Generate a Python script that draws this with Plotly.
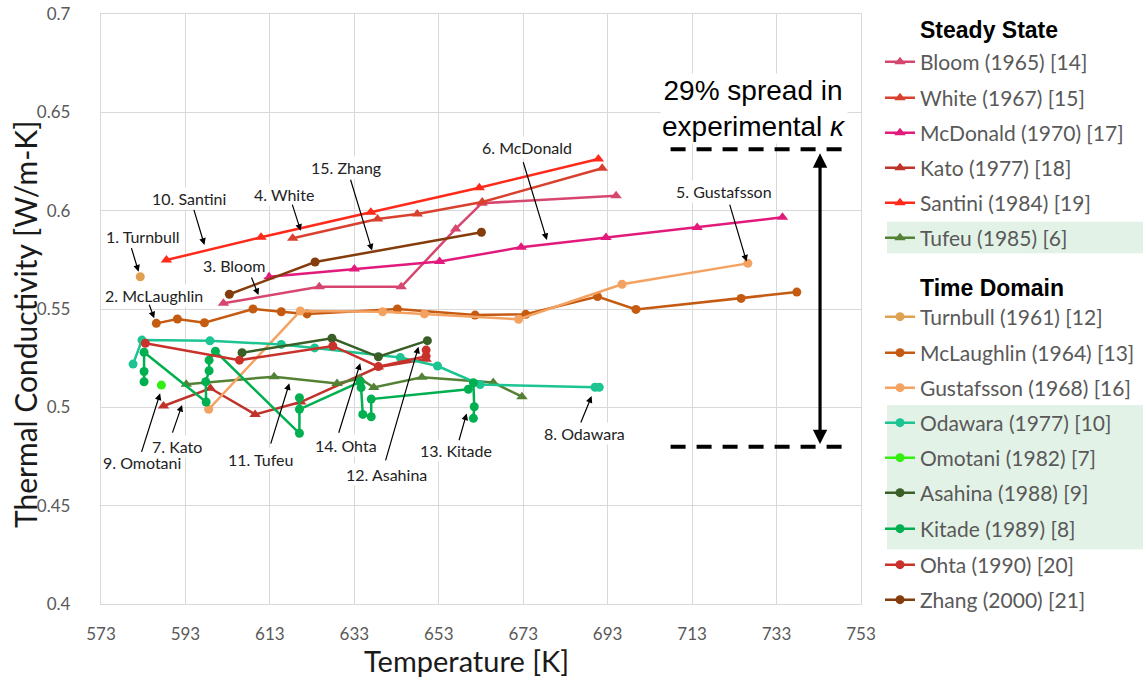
import plotly.graph_objects as go

# ---- Steady-state measurements: temperature [K], conductivity [W/m-K] ----
bloom_T = [602.0, 624.7, 644.1, 657.0, 663.2, 695.0]
bloom_k = [0.5529, 0.5613, 0.5613, 0.5907, 0.6038, 0.6076]

white_T = [618.4, 638.5, 647.9, 663.3, 691.7]
white_k = [0.5860, 0.5958, 0.5983, 0.6044, 0.6216]

mcdonald_T = [612.8, 633.0, 653.2, 672.5, 692.6, 714.2, 734.4]
mcdonald_k = [0.5664, 0.5703, 0.5741, 0.5814, 0.5863, 0.5914, 0.5966]

kato_T = [587.8, 598.9, 609.5, 620.3, 638.7, 650.0]
kato_k = [0.5007, 0.5097, 0.4964, 0.5027, 0.5205, 0.5245]

santini_T = [588.5, 610.9, 636.9, 662.6, 690.8]
santini_k = [0.5749, 0.5865, 0.5992, 0.6117, 0.6263]

tufeu_T = [593.2, 614.0, 628.9, 634.3, 637.6, 649.0, 665.9, 672.7]
tufeu_k = [0.5118, 0.5156, 0.5121, 0.5147, 0.5101, 0.5153, 0.5126, 0.5054]

# ---- Time-domain measurements ----
turnbull_T = [582.3]
turnbull_k = [0.5664]

mclaughlin_T = [586.1, 591.1, 597.5, 609.0, 615.7, 621.8, 643.2, 661.6, 673.6,
                690.6, 699.7, 724.6, 737.8]
mclaughlin_k = [0.5427, 0.5449, 0.5430, 0.5500, 0.5486, 0.5475, 0.5500, 0.5469,
                0.5473, 0.5563, 0.5498, 0.5554, 0.5586]

gustafsson_T = [598.5, 620.2, 639.7, 649.6, 671.9, 696.4, 726.2]
gustafsson_k = [0.4990, 0.5490, 0.5486, 0.5475, 0.5448, 0.5626, 0.5732]

odawara_T = [580.6, 582.7, 598.8, 615.7, 623.6, 643.9, 652.7, 662.8, 690.0, 691.0]
odawara_k = [0.5220, 0.5342, 0.5338, 0.5320, 0.5302, 0.5253, 0.5210, 0.5116,
             0.5102, 0.5102]

omotani_T = [587.3]
omotani_k = [0.5113]

asahina_T = [606.4, 627.7, 638.7, 650.3]
asahina_k = [0.5278, 0.5351, 0.5257, 0.5339]

kitade_T = [583.2, 583.2, 583.2, 597.9, 597.8, 598.6, 598.6, 600.1, 620.0, 620.0,
            620.0, 634.4, 634.6, 635.0, 637.0, 637.0, 660.0, 661.2, 661.4, 661.2]
kitade_k = [0.5130, 0.5182, 0.5280, 0.5027, 0.5130, 0.5186, 0.5240, 0.5285, 0.4868,
            0.5049, 0.4990, 0.5130, 0.5100, 0.4964, 0.4952, 0.5042, 0.5092, 0.5125,
            0.5003, 0.4944]

ohta_T = [583.5, 605.8, 627.9, 638.7, 650.0, 650.0]
ohta_k = [0.5326, 0.5240, 0.5312, 0.5207, 0.5260, 0.5291]

zhang_T = [603.4, 623.7, 663.1]
zhang_k = [0.5575, 0.5739, 0.5890]

# Reference band for the spread in reported conductivity
spread_hi = 0.6312
spread_lo = 0.4800

# name, T, k, colour, marker symbol
steady = [
    ("Bloom (1965) [14]", bloom_T, bloom_k, "#D6466E", "triangle-up"),
    ("White (1967) [15]", white_T, white_k, "#D9412F", "triangle-up"),
    ("McDonald (1970) [17]", mcdonald_T, mcdonald_k, "#E11A7B", "triangle-up"),
    ("Kato (1977) [18]", kato_T, kato_k, "#C0332A", "triangle-up"),
    ("Santini (1984) [19]", santini_T, santini_k, "#FF2A1A", "triangle-up"),
    ("Tufeu (1985) [6]", tufeu_T, tufeu_k, "#548235", "triangle-up"),
]
timedomain = [
    ("Turnbull (1961) [12]", turnbull_T, turnbull_k, "#DFA04F", "circle"),
    ("McLaughlin (1964) [13]", mclaughlin_T, mclaughlin_k, "#C55A11", "circle"),
    ("Gustafsson (1968) [16]", gustafsson_T, gustafsson_k, "#F4A261", "circle"),
    ("Odawara (1977) [10]", odawara_T, odawara_k, "#1CC491", "circle"),
    ("Omotani (1982) [7]", omotani_T, omotani_k, "#33EE11", "circle"),
    ("Asahina (1988) [9]", asahina_T, asahina_k, "#3A5F26", "circle"),
    ("Kitade (1989) [8]", kitade_T, kitade_k, "#00B050", "circle"),
    ("Ohta (1990) [20]", ohta_T, ohta_k, "#C8322A", "circle"),
    ("Zhang (2000) [21]", zhang_T, zhang_k, "#843C0C", "circle"),
]

# legend row centres (pixels from the top of the page)
legend_rows = [62, 98, 133, 168, 203, 238,
               317, 353, 388, 423, 458, 493, 529, 565, 600]

W, H = 1143, 688
plot_l, plot_r, plot_t, plot_b = 101, 861, 14, 604


def px_to_paper_x(px):
    return (px - plot_l) / (plot_r - plot_l)


def px_to_paper_y(py):
    return (plot_b - py) / (plot_b - plot_t)


fig = go.Figure()

layout_legends = {}
for i, ((name, T, k, color, sym), yc) in enumerate(zip(steady + timedomain, legend_rows)):
    key = "legend" if i == 0 else f"legend{i + 1}"
    fig.add_trace(go.Scatter(
        x=T, y=k, name=name, mode="lines+markers",
        line=dict(color=color, width=2.5),
        marker=dict(color=color, symbol=sym, size=9 if sym == "circle" else 10),
        legend=key, showlegend=True,
    ))
    layout_legends[key] = dict(
        xref="container", yref="container", x=880 / W, y=1 - yc / H,
        xanchor="left", yanchor="middle", bgcolor="rgba(0,0,0,0)",
        borderwidth=0, font=dict(family="Lato", size=21, color="#595959"),
    )

# Curve labels: (text, label centre, arrow tail, arrow tip) in data units
labels = [
    ("1. Turnbull", (583.0, 0.5871), (580.1, 0.5817), (581.9, 0.5690)),
    ("2. McLaughlin", (585.5, 0.5571), (584.3, 0.5529), (585.6, 0.5453)),
    ("3. Bloom", (604.6, 0.5719), (608.5, 0.5668), (610.3, 0.5571)),
    ("4. White", (616.3, 0.6080), (618.2, 0.6038), (620.3, 0.5898)),
    ("10. Santini", (593.8, 0.6060), (594.9, 0.6012), (597.5, 0.5826)),
    ("15. Zhang", (631.1, 0.6222), (632.0, 0.6165), (637.2, 0.5797)),
    ("6. McDonald", (673.9, 0.6319), (672.9, 0.6254), (678.6, 0.5851)),
    ("5. Gustafsson", (720.6, 0.6095), (721.8, 0.6038), (725.9, 0.5741)),
    ("9. Omotani", (582.7, 0.4717), (582.5, 0.4766), (587.0, 0.5071)),
    ("7. Kato", (591.1, 0.4803), (589.8, 0.4864), (592.2, 0.5012)),
    ("11. Tufeu", (610.7, 0.4734), (613.1, 0.4808), (617.6, 0.5122)),
    ("14. Ohta", (631.0, 0.4806), (629.2, 0.4863), (634.4, 0.5224)),
    ("12. Asahina", (640.5, 0.4656), (640.3, 0.4723), (648.2, 0.5308)),
    ("13. Kitade", (657.1, 0.4778), (657.7, 0.4825), (659.6, 0.4969)),
    ("8. Odawara", (687.6, 0.4867), (686.5, 0.4915), (689.2, 0.5057)),
]

annotations = []
for text, (tx, ty), (ax, ay), (hx, hy) in labels:
    annotations.append(dict(
        x=tx, y=ty, xref="x", yref="y", text=text, showarrow=False,
        xanchor="center", yanchor="middle", bgcolor="white", borderpad=1,
        font=dict(family="Lato", size=16, color="#222222"),
    ))
    annotations.append(dict(
        x=hx, y=hy, xref="x", yref="y", ax=ax, ay=ay, axref="x", ayref="y",
        text="", showarrow=True, arrowhead=2, arrowsize=1.1, arrowwidth=1.2,
        arrowcolor="black",
    ))

# Spread marker: double-headed arrow between the dashed bounds
annotations.append(dict(
    x=743.3, y=spread_lo + 0.0013, ax=743.3, ay=spread_hi - 0.0013,
    xref="x", yref="y", axref="x", ayref="y", text="", showarrow=True,
    arrowhead=2, arrowside="end+start", arrowsize=0.9, arrowwidth=3.2,
    arrowcolor="black",
))
annotations.append(dict(
    x=727.6, y=0.6522, xref="x", yref="y", showarrow=False,
    xanchor="center", yanchor="middle",
    text="29% spread in<br>experimental <i>κ</i>", bgcolor="white",
    font=dict(family="Liberation Sans", size=28, color="black"),
))

# Group headings of the legend
for text, yc in [("Steady State", 30), ("Time Domain", 288)]:
    annotations.append(dict(
        x=px_to_paper_x(919), y=px_to_paper_y(yc), xref="paper", yref="paper",
        text=f"<b>{text}</b>", showarrow=False, xanchor="left", yanchor="middle",
        borderpad=0, font=dict(family="Liberation Sans", size=23, color="black"),
    ))

# Axis titles
annotations.append(dict(
    x=px_to_paper_x(466), y=px_to_paper_y(660), xref="paper", yref="paper",
    xanchor="center", yanchor="middle", text="Temperature [K]", showarrow=False,
    font=dict(family="Lato", size=29, color="#1a1a1a"),
))
annotations.append(dict(
    x=px_to_paper_x(25), y=px_to_paper_y(325), xref="paper", yref="paper",
    xanchor="center", yanchor="middle", text="Thermal Conductivity [W/m-K]",
    showarrow=False, textangle=-90,
    font=dict(family="Lato", size=30, color="#1a1a1a"),
))

shapes = [
    # highlighted legend rows
    dict(type="rect", xref="paper", yref="paper", layer="below", line_width=0,
         fillcolor="#E3F2E7", x0=px_to_paper_x(887), x1=px_to_paper_x(1143),
         y0=px_to_paper_y(253.3), y1=px_to_paper_y(221.7)),
    dict(type="rect", xref="paper", yref="paper", layer="below", line_width=0,
         fillcolor="#E3F2E7", x0=px_to_paper_x(887), x1=px_to_paper_x(1143),
         y0=px_to_paper_y(549.3), y1=px_to_paper_y(405)),
    # dashed bounds of the spread
    dict(type="line", xref="x", yref="y", x0=707.9, x1=748.4, y0=spread_hi, y1=spread_hi,
         line=dict(color="black", width=4, dash="15px,11px")),
    dict(type="line", xref="x", yref="y", x0=707.9, x1=748.4, y0=spread_lo, y1=spread_lo,
         line=dict(color="black", width=4, dash="15px,11px")),
]

axis_common = dict(
    showgrid=True, gridcolor="#D9D9D9", gridwidth=1.3, zeroline=False,
    showline=True, linecolor="#D9D9D9", linewidth=1.3, mirror=True,
    ticks="", tickfont=dict(family="Lato", size=17, color="#595959"),
)

fig.update_layout(
    width=W, height=H,
    margin=dict(l=plot_l, r=W - plot_r, t=plot_t, b=H - plot_b, autoexpand=False),
    paper_bgcolor="white", plot_bgcolor="white",
    xaxis=dict(range=[573, 753], tick0=573, dtick=20, ticklabelstandoff=14,
               **axis_common),
    yaxis=dict(range=[0.4, 0.7], tick0=0.4, dtick=0.05, ticklabelstandoff=26,
               **axis_common),
    annotations=annotations,
    shapes=shapes,
    **layout_legends,
)

fig.write_html("out.html")
